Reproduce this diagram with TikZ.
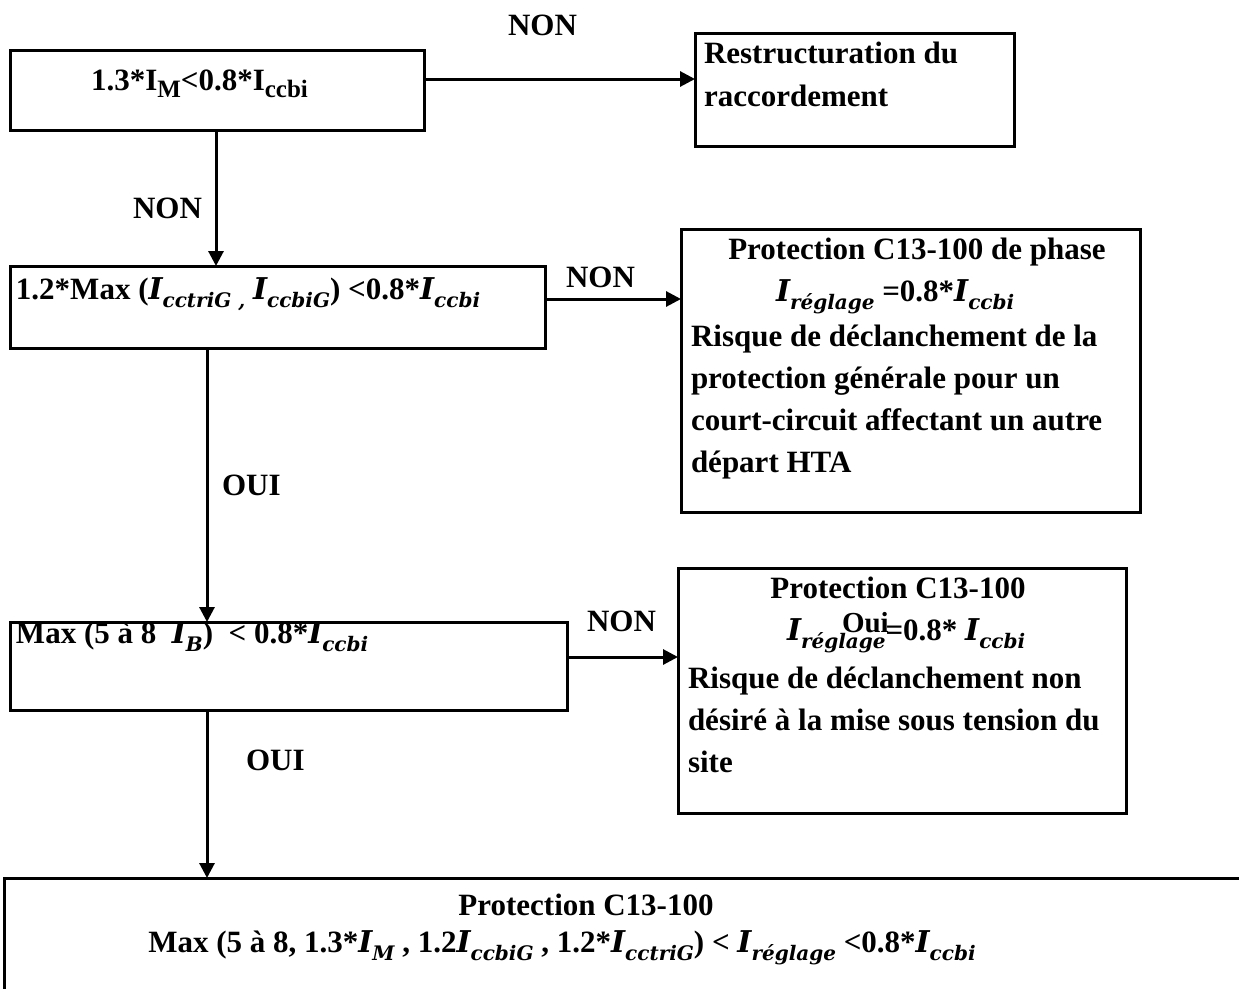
\documentclass[tikz,border=0pt]{standalone}
\usepackage{fontspec}
\setmainfont{Liberation Serif}
\newfontfamily\mfont{DejaVu Serif}
\usetikzlibrary{arrows.meta,calc}
\newcommand\Sb[1]{\raisebox{-7pt}{\fontsize{25}{25}\selectfont #1}}
\newcommand\Mi[1]{{\mfont\bfseries\itshape\fontsize{30}{30}\selectfont I\raisebox{-8pt}{\fontsize{20}{20}\selectfont #1}}}
\begin{document}
\begin{tikzpicture}[x=1pt,y=-1pt,
  every node/.style={inner sep=0pt, outer sep=0pt},
  box/.style={draw, line width=3pt, anchor=north west, inner sep=0pt},
  txt/.style={anchor=base west, font=\fontsize{31}{43}\selectfont\bfseries},
  ctxt/.style={anchor=base, font=\fontsize{31}{43}\selectfont\bfseries},
  arr/.style={line width=3pt, -{Triangle[length=15pt,width=15pt]}}]
\path[use as bounding box] (0,0) rectangle (1239,988);
\clip (0,0) rectangle (1239,988);
\fill[white] (0,0) rectangle (1239,988);

% boxes
\node[box, minimum width=414pt, minimum height=80pt] (b1) at (10,50) {};
\node[box, minimum width=319pt, minimum height=113pt] (b2) at (695,33) {};
\node[box, minimum width=535pt, minimum height=82pt] (b3) at (10,266) {};
\node[box, minimum width=459pt, minimum height=283pt] (b4) at (681,229) {};
\node[box, minimum width=557pt, minimum height=88pt] (b5) at (10,622) {};
\node[box, minimum width=448pt, minimum height=245pt] (b6) at (678,568) {};
\node[box, minimum width=1300pt, minimum height=200pt] (b7) at (4,878) {};

% texts
\node[txt] (t1) at (91,90) {1.3*I\Sb{M}<0.8*I\Sb{ccbi}};
\node[txt] (t2a) at (704,63) {Restructuration du};
\node[txt] (t2b) at (704,106) {raccordement};
\node[txt] (t3) at (16,299) {1.2*Max (\Mi{cctriG ,} \Mi{ccbiG}) <0.8*\Mi{ccbi}};
\node[ctxt] (t4a) at (917,259) {Protection C13-100 de phase};
\node[txt] (t4b) at (776,301) {\Mi{réglage} =0.8*\Mi{ccbi}};
\node[txt] (t4c) at (691,346) {Risque de déclanchement de la};
\node[txt] (t4d) at (691,388) {protection générale pour un};
\node[txt] (t4e) at (691,430) {court-circuit affectant un autre};
\node[txt] (t4f) at (691,472) {départ HTA};
\node[txt] (t5) at (16,643) {Max (5 à 8\ \ \Mi{B})\ \ < 0.8*\Mi{ccbi}};
\node[ctxt] (t6a) at (898,598) {Protection C13-100};
\node[txt] (t6b) at (787,640) {\Mi{réglage}=0.8* \Mi{ccbi}};
\node[txt, font=\fontsize{29}{29}\selectfont\bfseries] (oui) at (842,632) {Oui};
\node[txt] (t6c) at (688,688) {Risque de déclanchement non};
\node[txt] (t6d) at (688,730) {désiré à la mise sous tension du};
\node[txt] (t6e) at (688,772) {site};
\node[ctxt] (t7a) at (586,915) {Protection C13-100};
\node[ctxt] (t7b) at (562,952) {Max (5 à 8, 1.3*\Mi{M} , 1.2\Mi{ccbiG} , 1.2*\Mi{cctriG}) < \Mi{réglage} <0.8*\Mi{ccbi}};

% labels
\node[txt] (n1) at (508,35) {NON};
\node[txt] (n2) at (133,218) {NON};
\node[txt] (n3) at (566,287) {NON};
\node[txt] (o1) at (222,495) {OUI};
\node[txt] (n4) at (587,631) {NON};
\node[txt] (o2) at (246,770) {OUI};

% arrows
\draw[arr] ([yshift=-29pt]b1.north east) coordinate (a1) -- (a1 -| b2.west);
\draw[arr] ([xshift=206pt]b1.south west) coordinate (a2) -- (a2 |- b3.north);
\draw[arr] ([yshift=-33pt]b3.north east) coordinate (a3) -- (a3 -| b4.west);
\draw[arr] ([xshift=197pt]b3.south west) coordinate (a4) -- (a4 |- b5.north);
\draw[arr] ([yshift=-35pt]b5.north east) coordinate (a5) -- (a5 -| b6.west);
\draw[arr] ([xshift=197pt]b5.south west) coordinate (a6) -- (a6 |- b7.north);
\end{tikzpicture}
\end{document}
